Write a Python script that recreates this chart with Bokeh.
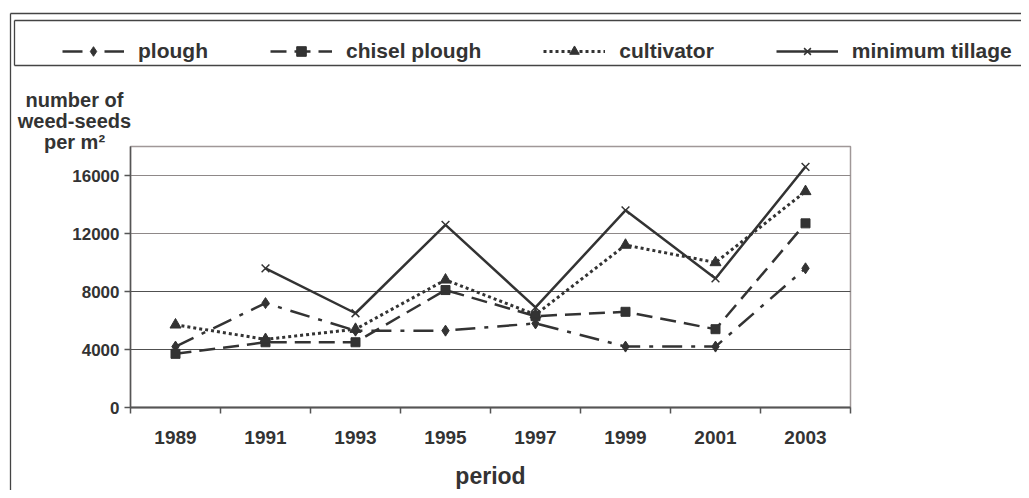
import math
from bokeh.plotting import figure
from bokeh.models import (Range1d, FixedTicker, Legend, LegendItem, Label,
                          BoxAnnotation, ColumnDataSource, LinearAxis)
from bokeh.embed import file_html
from bokeh.resources import INLINE

periods = ["1989", "1991", "1993", "1995", "1997", "1999", "2001", "2003"]
plough = [4200, 7200, 5300, 5300, 5800, 4200, 4200, 9600]
chisel_plough = [3700, 4500, 4500, 8100, 6300, 6600, 5400, 12700]
cultivator = [5700, 4700, 5400, 8800, 6400, 11200, 10000, 14900]
minimum_tillage = [math.nan, 9600, 6500, 12600, 6900, 13600, 8900, 16600]
y_ticks = [0, 4000, 8000, 12000, 16000]
y_max = 18000

FONT = "Liberation Sans"
TXT = "#333333"
INK = "#333333"
FRAME = "#444444"

# canvas / layout geometry (pixels)
W, H = 1021, 490
PX_L, PX_R = 130, 850     # plot area left/right
PY_T, PY_B = 146, 407     # plot area top/bottom
NX = 2 * len(periods)

def xd(px):
    return (px - PX_L) * NX / (PX_R - PX_L)

def yd(py):
    return (PY_B - py) * y_max / (PY_B - PY_T)

xs = [2 * i + 1 for i in range(len(periods))]
src = ColumnDataSource(dict(x=xs, plough=plough, chisel=chisel_plough,
                            cult=cultivator, mint=minimum_tillage))

p = figure(width=W, height=H, output_backend="svg", toolbar_location=None,
           x_range=Range1d(xd(0), xd(W)), y_range=Range1d(yd(H), yd(0)),
           x_axis_type=None, y_axis_type=None,
           min_border_left=0, min_border_right=0, min_border_top=0,
           min_border_bottom=0)
p.background_fill_color = "white"
p.border_fill_color = "white"
p.outline_line_color = None

# plot area frame (top/right in light gray)
p.add_layout(BoxAnnotation(left=0, right=NX, bottom=0, top=y_max, fill_alpha=0,
                           line_color="#a09898", line_alpha=1, line_width=1.5,
                           level="underlay"))

# horizontal grid lines
grid_y = y_ticks[1:]
grid_colors = ["#505050", "#505050", "#8e8888", "#8e8888"]
p.segment(x0=0, x1=NX, y0=grid_y, y1=grid_y, line_color=grid_colors,
          line_width=1.2)

# outer border (left/top) and legend frame
far_r, far_b = xd(1300), yd(800)
p.segment(x0=[xd(10), xd(10)], x1=[xd(10), far_r],
          y0=[yd(13), yd(13)], y1=[far_b, yd(13)],
          line_color=FRAME, line_width=1.3)
p.segment(x0=[xd(14), xd(14), xd(14)], x1=[xd(14), far_r, far_r],
          y0=[yd(20), yd(20), yd(65)], y1=[yd(65), yd(20), yd(65)],
          line_color=FRAME, line_width=1.3)

# x axis
xa = LinearAxis(fixed_location=0, bounds=(0, NX))
xa.ticker = FixedTicker(ticks=xs, minor_ticks=list(range(0, NX + 1, 2)))
xa.major_label_overrides = {x: lab for x, lab in zip(xs, periods)}
xa.major_tick_out = 0
xa.major_tick_in = 0
xa.minor_tick_out = 6
xa.minor_tick_in = 0
xa.minor_tick_line_color = "#555555"
xa.minor_tick_line_width = 1.5
xa.axis_line_color = "#555555"
xa.axis_line_width = 2
xa.major_label_text_font = FONT
xa.major_label_text_font_style = "bold"
xa.major_label_text_font_size = "19px"
xa.major_label_text_color = TXT
xa.major_label_standoff = 17
xa.axis_label = "period"
xa.axis_label_text_font = FONT
xa.axis_label_text_font_style = "bold"
xa.axis_label_text_font_size = "23px"
xa.axis_label_text_color = TXT
xa.axis_label_standoff = 16
p.add_layout(xa, "below")

# y axis
ya = LinearAxis(fixed_location=0, bounds=(0, y_max))
ya.ticker = FixedTicker(ticks=y_ticks, minor_ticks=[])
ya.major_tick_out = 6
ya.major_tick_in = 0
ya.major_tick_line_color = "#555555"
ya.major_tick_line_width = 1.5
ya.minor_tick_out = 0
ya.axis_line_color = "#555555"
ya.axis_line_width = 1.5
ya.major_label_text_font = FONT
ya.major_label_text_font_style = "bold"
ya.major_label_text_font_size = "17px"
ya.major_label_text_color = TXT
ya.major_label_standoff = 5
p.add_layout(ya, "left")

# series
r1l = p.line("x", "plough", source=src, line_color=INK, line_width=2.5, line_dash="20 9 4 9")
r1m = p.scatter("x", "plough", source=src, marker="diamond", size=11, color=INK)
r2l = p.line("x", "chisel", source=src, line_color=INK, line_width=2.5, line_dash="16 8")
r2m = p.scatter("x", "chisel", source=src, marker="square", size=9, color=INK)
r3l = p.line("x", "cult", source=src, line_color=INK, line_width=3, line_dash="3 3")
r3m = p.scatter("x", "cult", source=src, marker="triangle", size=11, color=INK)
r4l = p.line("x", "mint", source=src, line_color=INK, line_width=2.5)
r4m = p.scatter("x", "mint", source=src, marker="x", size=11, line_color=INK, line_width=1.5)

legend = Legend(items=[
    LegendItem(label="plough", renderers=[r1l, r1m]),
    LegendItem(label="chisel plough", renderers=[r2l, r2m]),
    LegendItem(label="cultivator", renderers=[r3l, r3m]),
    LegendItem(label="minimum tillage", renderers=[r4l, r4m]),
], orientation="horizontal", location=(62, 427))
legend.label_text_font = FONT
legend.label_text_font_style = "bold"
legend.label_text_font_size = "21px"
legend.label_text_color = TXT
legend.glyph_width = 62
legend.glyph_height = 24
legend.label_height = 24
legend.label_standoff = 14
legend.spacing = 62
legend.padding = 8
legend.border_line_color = None
legend.background_fill_alpha = 0
p.add_layout(legend, "center")

# y axis title (three centred lines)
for txt, py in zip(["number of", "weed-seeds", "per m²"], [99, 120, 141]):
    p.add_layout(Label(x=xd(74), y=yd(py), text=txt, text_align="center",
                       text_baseline="alphabetic", text_font=FONT,
                       text_font_style="bold", text_font_size="20px",
                       text_color=TXT))

open("out.html", "w").write(file_html(p, INLINE))
